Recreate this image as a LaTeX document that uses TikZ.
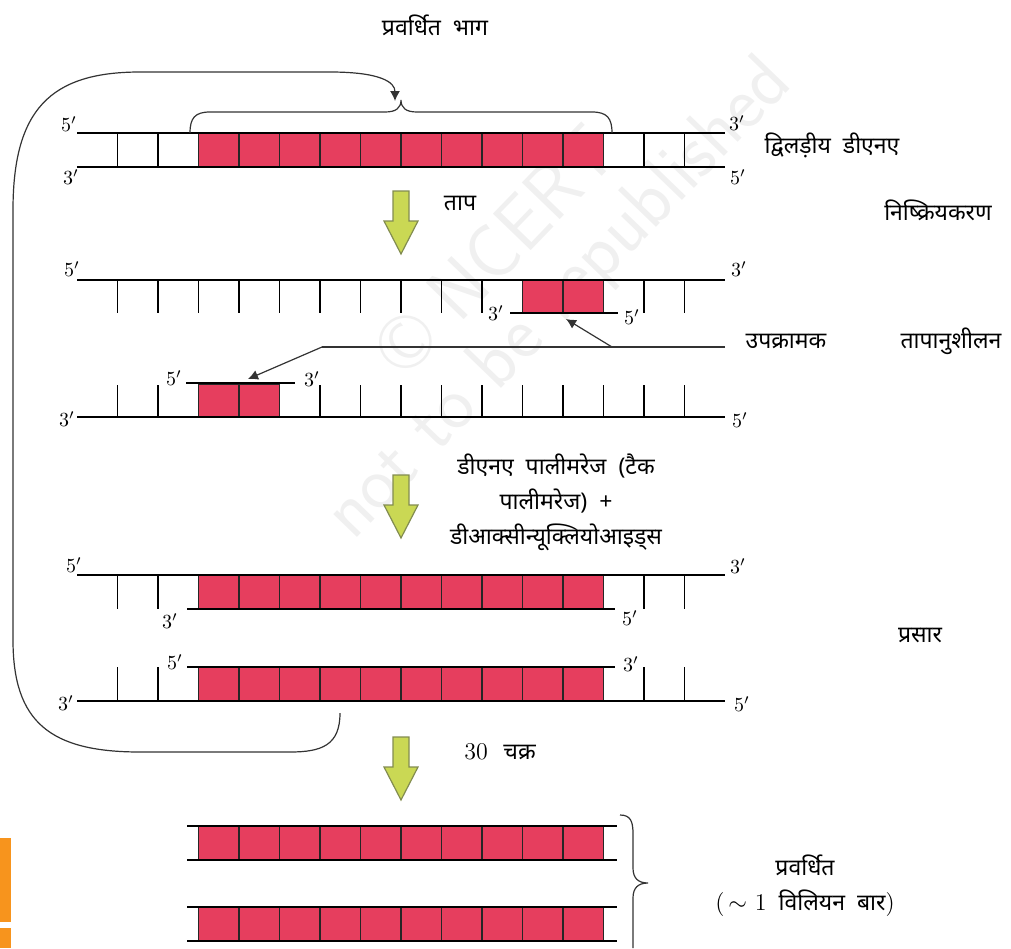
\documentclass[tikz,border=0pt]{standalone}
\usepackage{fontspec}
\newfontfamily\hindi[Script=Devanagari]{Noto Sans}
\usetikzlibrary{arrows.meta}
\definecolor{dnared}{RGB}{230,62,94}
\definecolor{heatgreen}{RGB}{202,216,84}
\definecolor{heatedge}{RGB}{130,140,80}
\definecolor{pageorange}{RGB}{247,148,29}
\tikzset{
  strand/.style={line width=1pt},
  rung/.style={line width=.75pt},
  cell/.style={fill=dnared, draw=black!85, line width=.7pt},
  note/.style={font=\hindi\fontsize{11.5}{17.5}\selectfont, inner sep=1pt},
  primelbl/.style={font=\fontsize{10}{10}\selectfont, inner sep=0pt},
  fatarrow/.style={fill=heatgreen, draw=heatedge, line width=.6pt},
  thinline/.style={line width=.6pt, draw=black!80},
  mark5/.style={font=\sffamily\fontsize{38}{38}\selectfont, text=black!6, rotate=46}
}
\newcommand{\heatarrow}[2]{% #1 = centre x, #2 = top y
  \draw[fatarrow] (#1-8,#2) -- (#1+8,#2) -- (#1+8,#2+30) -- (#1+17,#2+30)
    -- (#1,#2+63) -- (#1-17,#2+30) -- (#1-8,#2+30) -- cycle;}
\begin{document}
\begin{tikzpicture}[x=.5pt,y=-.5pt]
  \useasboundingbox (0,0) rectangle (1011,948);
  % watermark
  \node[mark5] (wm1) at (495,250) {\copyright\ NCERT};
  \node[mark5] (wm2) at (560,300) {not to be republished};
  % page edge
  \fill[pageorange] (0,838) rectangle (11,922);
  \fill[pageorange] (0,928) rectangle (11,948);

  % double stranded DNA
  \foreach \i in {2,...,11} \draw[cell] ({117.3+40.5*\i},133) rectangle +(40.5,34);
  \foreach \i in {0,1,13,14} \draw[rung] ({117.3+40.5*\i},133) -- +(0,34);
  \draw[strand] (77,133) -- (725,133);
  \draw[strand] (77,167) -- (725,167);
  \node[primelbl] (a5) at (69,124) {5$'$};
  \node[primelbl] (a3) at (71,177) {3$'$};
  \node[primelbl] (b3) at (737,123) {3$'$};
  \node[primelbl] (b5) at (738,177) {5$'$};
  % brace over target
  \draw[thinline] (190,133) .. controls (190,118) and (195,112) .. (210,112) -- (385,112)
    .. controls (396,112) and (401,108) .. (401,100)
    .. controls (401,108) and (406,112) .. (417,112) -- (592,112)
    .. controls (607,112) and (612,118) .. (612,133);

  \heatarrow{401}{191}

  % denatured strands, primers annealed
  \foreach \i in {10,11} \draw[cell] ({117.3+40.5*\i},280) rectangle +(40.5,33);
  \foreach \i in {0,...,9,13,14} \draw[rung] ({117.3+40.5*\i},280) -- +(0,33);
  \draw[strand] (77,280) -- (725,280);
  \draw[strand] (510,313) -- (618,313);
  \node[primelbl] (c5) at (72,269) {5$'$};
  \node[primelbl] (c3) at (739,269) {3$'$};
  \node[primelbl] (d3) at (496,313) {3$'$};
  \node[primelbl] (d5) at (632,317) {5$'$};

  \foreach \i in {2,3} \draw[cell] ({117.3+40.5*\i},384) rectangle +(40.5,33);
  \foreach \i in {0,1,5,6,...,14} \draw[rung] ({117.3+40.5*\i},385) -- +(0,32);
  \draw[strand] (77,417) -- (725,417);
  \draw[strand] (186,383) -- (295,383);
  \node[primelbl] (e5) at (174,378) {5$'$};
  \node[primelbl] (e3) at (312,379) {3$'$};
  \node[primelbl] (f3) at (67,419) {3$'$};
  \node[primelbl] (f5) at (740,420) {5$'$};

  % primer callout
  \node[note] (primer) at (786,341) {उपक्रामक};
  \coordinate (bend) at (322,347);
  \coordinate (lineend) at (725,347);
  \coordinate (fork) at (612,347);
  \coordinate (tipR) at (566,319);
  \coordinate (tipL) at (248,379);
  \draw[thinline] (lineend) -- (bend);
  \draw[thinline, -{Latex[length=5pt,width=5pt]}] (bend) -- (tipL);
  \draw[thinline, -{Latex[length=5pt,width=5pt]}] (fork) -- (tipR);

  \heatarrow{401}{475}

  % extended strands
  \foreach \i in {2,...,11} \draw[cell] ({117.3+40.5*\i},575) rectangle +(40.5,34);
  \foreach \i in {0,1,13,14} \draw[rung] ({117.3+40.5*\i},575) -- +(0,34);
  \draw[strand] (77,575) -- (725,575);
  \draw[strand] (187,609) -- (615,609);
  \node[primelbl] (g5) at (74,565) {5$'$};
  \node[primelbl] (g3) at (170,621) {3$'$};
  \node[primelbl] (h5) at (630,618) {5$'$};
  \node[primelbl] (h3) at (738,566) {3$'$};

  \foreach \i in {2,...,11} \draw[cell] ({117.3+40.5*\i},667) rectangle +(40.5,34);
  \foreach \i in {0,1,13,14} \draw[rung] ({117.3+40.5*\i},667) -- +(0,34);
  \draw[strand] (187,667) -- (615,667);
  \draw[strand] (77,701) -- (725,701);
  \node[primelbl] (k5) at (175,662) {5$'$};
  \node[primelbl] (k3) at (66,703) {3$'$};
  \node[primelbl] (m3) at (631,664) {3$'$};
  \node[primelbl] (m5) at (742,704) {5$'$};

  % cycle back loop
  \coordinate (loopstart) at (340,713);
  \coordinate (looptip) at (395,101);
  \draw[thinline, -{Latex[length=5pt,width=5pt]}] (loopstart)
    .. controls (340,745) and (322,752) .. (290,752) -- (140,752)
    .. controls (50,752) and (13,722) .. (13,640) -- (13,210)
    .. controls (13,110) and (50,72) .. (140,72) -- (330,72)
    .. controls (380,72) and (395,82) .. (looptip);

  \heatarrow{401}{737}

  % amplified copies
  \foreach \y in {826,907} {
    \foreach \i in {2,...,11} \draw[cell] ({117.3+40.5*\i},\y) rectangle +(40.5,34);
    \draw[strand] (187,\y) -- (617,\y);
    \draw[strand] (187,\y+34) -- (617,\y+34);
  }
  \draw[thinline] (620,815) .. controls (631,815) and (633,822) .. (633,834) -- (633,868)
    .. controls (633,878) and (638,883) .. (648,883)
    .. controls (638,883) and (633,888) .. (633,898) -- (633,948);

  % step labels
  \node[note] (target) at (435,25) {प्रवर्धित\ \ भाग};
  \node[note] (dsdna) at (832,145) {द्विलड़ीय\ \ डीएनए};
  \node[note] (heat) at (460,204) {ताप};
  \node[note] (denat) at (938,210) {निष्क्रियकरण};
  \node[note] (anneal) at (951,341) {तापानुशीलन};
  \node[note, align=center] (poly) at (556,502) {डीएनए\ \ पालीमरेज\ \ (टैक\\पालीमरेज)\ \ +\\डीआक्सीन्यूक्लियोआइड्स};
  \node[note] (extend) at (920,635) {प्रसार};
  \node[note] (cycles) at (500,752) {\rmfamily\fontsize{12}{14}\selectfont 30\ \ {\hindi\fontsize{11.5}{14}\selectfont चक्र}};
  \node[note, align=center] (amp) at (805,886) {प्रवर्धित\\{\rmfamily\fontsize{12}{14}\selectfont(\,$\sim$ 1}\ \ विलियन\ \ बार{\rmfamily\fontsize{12}{14}\selectfont)}};
\end{tikzpicture}
\end{document}
